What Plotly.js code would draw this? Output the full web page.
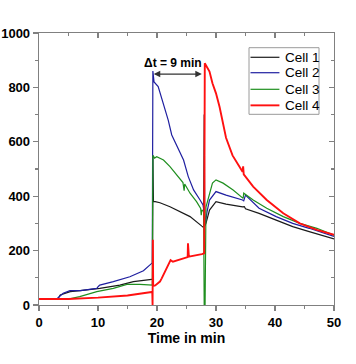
<!DOCTYPE html>
<html>
<head>
<meta charset="utf-8">
<script src="https://cdn.plot.ly/plotly-3.0.1.min.js"></script>
<style>html,body{margin:0;padding:0;background:#fff;}#chart{width:356px;height:364px;}</style>
</head>
<body>
<div id="chart"></div>
<script>
// ---- data (time in min, value) ----
const seriesNames = ["Cell 1", "Cell 2", "Cell 3", "Cell 4"];

const cell1_t = [0, 3.2, 3.6, 4.7, 5.3, 7, 10.3, 13.7, 16, 19.1, 19.25, 19.3, 19.4, 19.7, 20.5, 22.2, 23.9, 25.6, 27.6, 27.9, 28.0, 28.1, 28.3, 28.9, 30, 31.7, 34.5, 34.8, 35, 37.3, 40.2, 43, 45.8, 50];
const cell1_y = [22, 22, 37, 45, 49, 53, 61, 73, 86, 94, 94, 550, 380, 380, 376, 361, 343, 325, 290, 285, 700, 290, 300, 349, 380, 371, 361, 362, 354, 337, 312, 288, 270, 243];

const cell2_t = [0, 3.0, 4.1, 4.7, 5.25, 7, 9.8, 10.05, 10.3, 12.6, 15.4, 17.7, 18.8, 19.2, 19.3, 19.5, 20.2, 21.1, 21.9, 22.5, 23.3, 24.5, 25.3, 26.2, 27.3, 27.8, 28.0, 28.2, 28.5, 28.9, 30, 31.7, 34.5, 34.7, 35, 37.3, 40.2, 43, 45.8, 50];
const cell2_y = [22, 22, 43, 49, 53, 53, 61, 68, 73, 86, 104, 126, 147, 155, 860, 820, 803, 742, 680, 625, 588, 533, 472, 423, 386, 368, 340, 300, 345, 386, 417, 404, 386, 383, 404, 356, 325, 300, 282, 252];

const cell3_t = [0, 5.0, 6.9, 9.8, 12.6, 14.9, 17.1, 18.8, 19.2, 19.3, 19.6, 19.95, 21.1, 22.2, 23.3, 24.4, 24.6, 24.7, 25.6, 26.7, 27.4, 27.5, 27.6, 27.9, 28.0, 28.15, 28.3, 28.6, 29.4, 30, 31.2, 32.9, 34.6, 34.7, 36.3, 38.6, 41.4, 44.2, 47.1, 50];
const cell3_y = [22, 22, 31, 49, 61, 76, 76, 73, 73, 550, 540, 545, 533, 509, 478, 450, 420, 445, 411, 380, 355, 330, 350, 343, 0, 0, 360, 386, 448, 460, 448, 423, 392, 411, 386, 356, 325, 300, 282, 257];

const cell4_t = [0, 5, 10, 15, 18.8, 19.2, 19.25, 19.3, 19.35, 19.7, 20.5, 20.8, 21.6, 22.3, 22.7, 23.6, 24.7, 25.2, 25.25, 25.3, 25.4, 27.6, 28.0, 28.1, 28.4, 28.9, 29.4, 30.0, 30.6, 31.7, 32.8, 34.5, 34.6, 34.7, 36.3, 38.6, 41.4, 44.2, 47.1, 50];
const cell4_y = [22, 22, 27, 35, 47, 48, 0, 240, 70, 72, 86, 98, 135, 165, 159, 165, 175, 176, 227, 178, 178, 187, 190, 889, 875, 858, 815, 778, 729, 615, 550, 490, 510, 480, 435, 386, 337, 300, 276, 258];

const xTicks = [0, 10, 20, 30, 40, 50];
const yTicks = [0, 200, 400, 600, 800, 1000];

const colors = ["#1a1a1a", "#1f1fa0", "#1f8f1f", "#ff1010"];
const widths = [1.2, 1.2, 1.2, 1.9];

const ts = [cell1_t, cell2_t, cell3_t, cell4_t];
const ys = [cell1_y, cell2_y, cell3_y, cell4_y];

const FONT = "Liberation Sans, Arial, sans-serif";
const traces = seriesNames.map((n, i) => ({
  type: "scatter", mode: "lines", name: n,
  x: ts[i], y: ys[i],
  line: {color: colors[i], width: widths[i]},
  showlegend: false
}));
traces.push({type: "scatter", x: [], y: [], xaxis: "x2", yaxis: "y2", showlegend: false, hoverinfo: "skip"});

// ---- custom legend (box, line samples, labels) in paper coords ----
const legBox = {x0: 0.7119, x1: 0.9492, y0: 0.701, y1: 0.946};
const legRows = [0.9107, 0.854, 0.793, 0.734];
const legLineX = [0.717, 0.815];
const legTextX = 0.826;

const shapes = [{type: "rect", xref: "paper", yref: "paper",
  x0: legBox.x0, x1: legBox.x1, y0: legBox.y0, y1: legBox.y1,
  line: {color: "#9a9a9a", width: 1}, fillcolor: "#fff", layer: "above"}];
const legendAnn = [];
seriesNames.forEach((n, i) => {
  shapes.push({type: "line", xref: "paper", yref: "paper",
    x0: legLineX[0], x1: legLineX[1], y0: legRows[i], y1: legRows[i],
    line: {color: colors[i], width: widths[i]}, layer: "above"});
  legendAnn.push({xref: "paper", yref: "paper", x: legTextX, y: legRows[i],
    xanchor: "left", yanchor: "middle", text: n, showarrow: false,
    font: {family: FONT, size: 13.5, color: "#000"}});
});

const axCol = "#808080";
const layout = {
  width: 356, height: 364,
  margin: {l: 39, r: 22, t: 33, b: 59},
  paper_bgcolor: "#fff", plot_bgcolor: "#fff",
  showlegend: false,
  font: {family: FONT, color: "#000"},
  xaxis: {
    range: [0, 50], tickvals: xTicks, ticktext: xTicks.map(String),
    ticks: "outside", ticklen: 5, tickwidth: 1.2, tickcolor: axCol,
    showline: true, linecolor: axCol, linewidth: 1.3,
    showgrid: false, zeroline: false,
    minor: {dtick: 5, tick0: 0, ticks: "outside", ticklen: 3, tickcolor: axCol, showgrid: false},
    tickfont: {family: FONT, size: 13, weight: "bold", color: "#000"},
    title: {text: "Time in min", font: {family: FONT, size: 14, weight: "bold", color: "#000"}, standoff: 3}
  },
  yaxis: {
    range: [0, 1000], tickvals: yTicks, ticktext: yTicks.map(String),
    ticks: "outside", ticklen: 5, tickwidth: 1.2, tickcolor: axCol,
    showline: true, linecolor: axCol, linewidth: 1.3,
    showgrid: false, zeroline: false,
    minor: {dtick: 100, tick0: 0, ticks: "outside", ticklen: 3, tickcolor: axCol, showgrid: false},
    tickfont: {family: FONT, size: 13, weight: "bold", color: "#000"}
  },
  xaxis2: {
    overlaying: "x", side: "top", anchor: "y2", range: [0, 50], tickvals: xTicks,
    ticks: "inside", ticklen: 5, tickwidth: 1.2, tickcolor: axCol,
    showline: true, linecolor: axCol, linewidth: 1.3, showticklabels: false,
    showgrid: false, zeroline: false,
    minor: {dtick: 5, tick0: 0, ticks: "inside", ticklen: 3, tickcolor: axCol, showgrid: false}
  },
  yaxis2: {
    overlaying: "y", side: "right", anchor: "x2", range: [0, 1000], tickvals: yTicks,
    ticks: "inside", ticklen: 5, tickwidth: 1.2, tickcolor: axCol,
    showline: true, linecolor: axCol, linewidth: 1.3, showticklabels: false,
    showgrid: false, zeroline: false,
    minor: {dtick: 100, tick0: 0, ticks: "inside", ticklen: 3, tickcolor: axCol, showgrid: false}
  },
  shapes: shapes,
  annotations: [
    {x: 19.45, y: 849, ax: 27.85, ay: 849, axref: "x", ayref: "y", xref: "x", yref: "y",
     text: "", showarrow: true, arrowhead: 2, arrowside: "end+start", arrowsize: 1,
     arrowwidth: 1.3, arrowcolor: "#333"},
    {x: 22.7, y: 890, xref: "x", yref: "y", text: "Δt = 9 min", showarrow: false,
     font: {family: FONT, size: 12, weight: "bold", color: "#000"}}
  ].concat(legendAnn)
};

Plotly.newPlot("chart", traces, layout, {displayModeBar: false, staticPlot: true});
</script>
</body>
</html>
